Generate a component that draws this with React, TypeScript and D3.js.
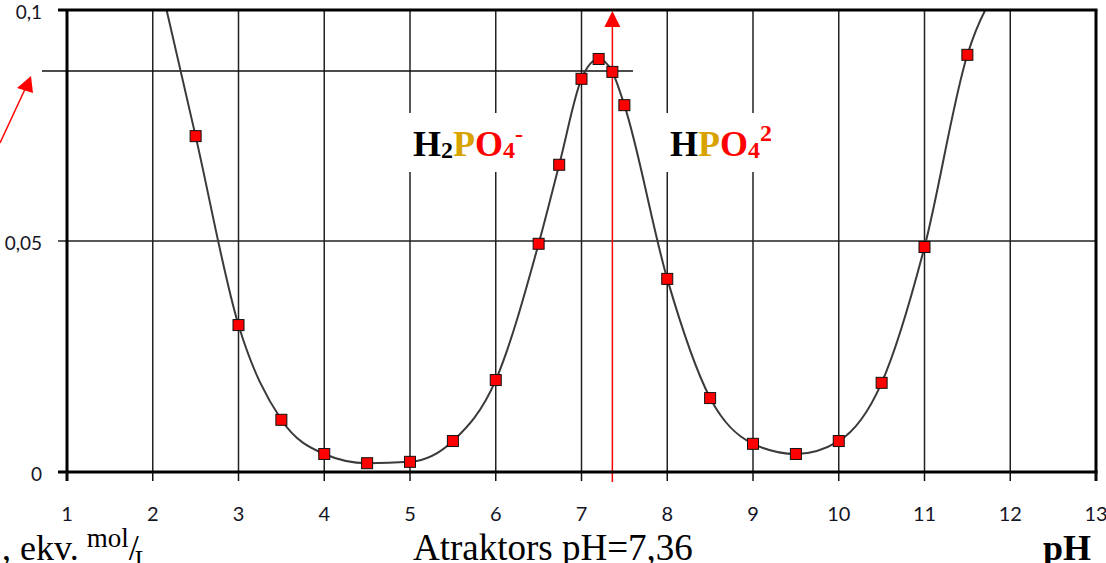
import React from "react"
import * as d3 from "d3"

// pH points and equivalent concentration (mol/L)
const PH = [2, 2.5, 3, 3.5, 4, 4.5, 5, 5.5, 6, 6.5, 6.74, 7, 7.2, 7.36, 7.5, 8, 8.5, 9, 9.5, 10, 10.5, 11, 11.5, 12]
const CONC = [
  0.113, 0.0727, 0.0318, 0.0113, 0.0039, 0.0019, 0.0022, 0.0067, 0.0199, 0.0494, 0.0665, 0.0851,
  0.0894, 0.0866, 0.0794, 0.0418, 0.016, 0.0061, 0.0039, 0.0067, 0.0193, 0.0487, 0.0903, 0.108,
]
const X_TICKS = [1, 2, 3, 4, 5, 6, 7, 8, 9, 10, 11, 12, 13]
const Y_TICKS = [0, 0.05, 0.1]
const Y_LABELS = ["0", "0,05", "0,1"]
const ATTRACTOR_PH = 7.36
const ATTRACTOR_LEVEL = 0.0868

const W = 1106
const H = 563
const TICK_FONT = "Lato, 'Open Sans', sans-serif"
const SERIF = "'Liberation Serif', 'Times New Roman', serif"
const GOLD = "#d8a300"
const RED = "#ff0000"

export default function App() {
  const x = d3.scaleLinear().domain([1, 13]).range([67, 1096])
  const y = d3.scaleLinear().domain([0, 0.1]).range([472, 10])
  const points = PH.map((p, i) => ({ p, c: CONC[i] }))

  const line = d3
    .line<{ p: number; c: number }>()
    .x(d => x(d.p))
    .y(d => y(d.c))
    .curve(d3.curveMonotoneX)

  const ax = x(ATTRACTOR_PH)

  return (
    <svg
      width={W}
      height={H}
      style={{ position: "absolute", left: 0, top: 0, background: "#fff" }}
    >
      <defs>
        <clipPath id="plot-clip">
          <rect x={x(1)} y={y(0.1)} width={x(13) - x(1)} height={y(0) - y(0.1)} />
        </clipPath>
      </defs>

      {/* vertical grid */}
      {X_TICKS.slice(1, -1).map(t => (
        <line key={t} x1={x(t)} x2={x(t)} y1={y(0.1)} y2={y(0)} stroke="#222" strokeWidth={1.5} />
      ))}
      {/* horizontal grid */}
      <line x1={58} x2={x(13)} y1={y(0.05)} y2={y(0.05)} stroke="#222" strokeWidth={1.5} />

      {/* attractor level line */}
      <line x1={42} x2={633} y1={y(ATTRACTOR_LEVEL)} y2={y(ATTRACTOR_LEVEL)} stroke="#111" strokeWidth={1.5} />

      {/* species labels with white boxes */}
      <rect x={404} y={113} width={128} height={59} fill="#fff" />
      <rect x={661} y={113} width={124} height={59} fill="#fff" />
      <text x={413} y={156} fontFamily={SERIF} fontWeight="bold" fontSize={36}>
        <tspan style={{ fill: "#000" }}>H</tspan>
        <tspan style={{ fill: "#000" }} fontSize={24} dy={2}>2</tspan>
        <tspan style={{ fill: GOLD }} dy={-2}>P</tspan>
        <tspan style={{ fill: RED }}>O</tspan>
        <tspan style={{ fill: RED }} fontSize={24} dy={2}>4</tspan>
        <tspan style={{ fill: RED }} fontSize={24} dy={-16}>-</tspan>
      </text>
      <text x={670} y={156} fontFamily={SERIF} fontWeight="bold" fontSize={36}>
        <tspan style={{ fill: "#000" }}>H</tspan>
        <tspan style={{ fill: GOLD }}>P</tspan>
        <tspan style={{ fill: RED }}>O</tspan>
        <tspan style={{ fill: RED }} fontSize={24} dy={2}>4</tspan>
        <tspan style={{ fill: RED }} fontSize={24} dy={-17}>2</tspan>
      </text>

      {/* curve */}
      <path d={line(points) || ""} fill="none" stroke="#3a3a3a" strokeWidth={2} clipPath="url(#plot-clip)" />

      {/* attractor arrow */}
      <line x1={ax} x2={ax} y1={482} y2={14} stroke={RED} strokeWidth={1.5} />
      <path d={`M${ax},11 L${ax - 8},27 L${ax + 8},27 z`} fill={RED} />

      {/* markers */}
      {points
        .filter(d => d.c <= 0.1)
        .map(d => (
          <rect
            key={d.p}
            x={x(d.p) - 5.5}
            y={y(d.c) - 5.5}
            width={11}
            height={11}
            fill={RED}
            stroke="#111"
            strokeWidth={1}
          />
        ))}

      {/* frame */}
      <line x1={58} x2={x(13) + 1.5} y1={y(0.1)} y2={y(0.1)} stroke="#000" strokeWidth={3} />
      <line x1={58} x2={x(13) + 1.5} y1={y(0)} y2={y(0)} stroke="#000" strokeWidth={3} />
      <line x1={x(1)} x2={x(1)} y1={y(0.1)} y2={y(0) + 9} stroke="#000" strokeWidth={3} />
      <line x1={x(13)} x2={x(13)} y1={y(0.1)} y2={y(0) + 9} stroke="#000" strokeWidth={3} />

      {/* x ticks */}
      {X_TICKS.map(t => (
        <g key={t}>
          <line x1={x(t)} x2={x(t)} y1={y(0)} y2={y(0) + 9} stroke="#111" strokeWidth={1.5} />
          <text x={x(t)} y={513} textAnchor="middle" dominantBaseline="central" fontFamily={TICK_FONT} fontSize={20} fill="#151525">
            {t}
          </text>
        </g>
      ))}
      {/* y labels */}
      {Y_TICKS.map((t, i) => (
        <text key={t} x={42} y={y(t) + 1} textAnchor="end" dominantBaseline="central" fontFamily={TICK_FONT} fontSize={19} fill="#151525">
          {Y_LABELS[i]}
        </text>
      ))}

      {/* left red arrow */}
      <line x1={0} y1={143} x2={26} y2={87} stroke={RED} strokeWidth={1.5} />
      <path d="M31,76 L17,88 L33,93 z" fill={RED} />

      {/* bottom captions */}
      <text x={2} y={560} fontFamily={SERIF} fontSize={36} fill="#000">
        <tspan>, ekv.</tspan>
        <tspan fontSize={27} dx={8} dy={-13}>mol</tspan>
        <tspan dy={13}>/</tspan>
        <tspan fontSize={25} dy={8} dx={-4}>L</tspan>
      </text>
      <text x={413} y={560} fontFamily={SERIF} fontSize={37} fill="#000">
        Atraktors pH=7,36
      </text>
      <text x={1043} y={560} fontFamily={SERIF} fontSize={36} fontWeight="bold" fill="#000">
        pH
      </text>
    </svg>
  )
}
